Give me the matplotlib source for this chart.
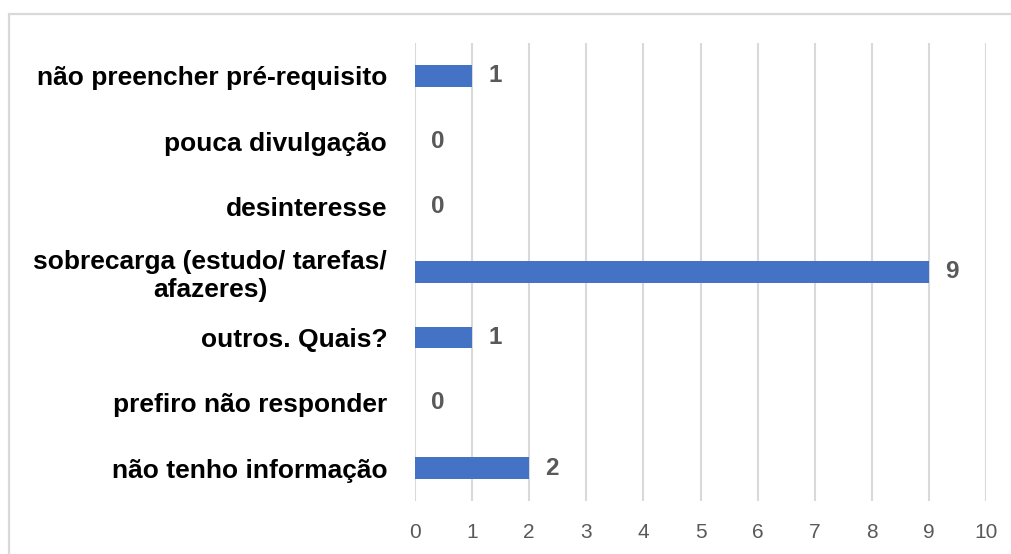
import matplotlib
matplotlib.use('Agg')
import matplotlib.pyplot as plt
from matplotlib.patches import Rectangle

categories = ['não preencher pré-requisito', 'pouca divulgação', 'desinteresse',
              'sobrecarga (estudo/ tarefas/\nafazeres)', 'outros. Quais?',
              'prefiro não responder', 'não tenho informação']
values = [1, 0, 0, 9, 1, 0, 2]
xticks = list(range(0, 11))

plt.rcParams['font.family'] = ['Liberation Sans', 'DejaVu Sans']

W, H = 1011, 554
fig = plt.figure(figsize=(W / 100, H / 100), dpi=100)
ax = fig.add_axes([415 / W, 1 - 501 / H, (986 - 415) / W, (501 - 43) / H])

# outer chart border (cut off at the right and bottom in the reference)
fig.patches.append(Rectangle((9 / W, -0.1), 1.2, 1.1 - 14 / H, transform=fig.transFigure,
                             fill=False, edgecolor='#D9D9D9', linewidth=1.6))

pos = list(range(len(categories)))[::-1]
ax.barh(pos, values, height=0.33, color='#4472C4', zorder=3)

for p, v in zip(pos, values):
    ax.annotate(str(v), (v, p), xytext=(16, 0), textcoords='offset pixels',
                ha='left', va='center', fontsize=17.5, fontweight='bold', color='#595959')

ax.set_xlim(0, 10)
ax.set_ylim(-0.5, len(categories) - 0.5)
ax.set_xticks(xticks)
ax.set_yticks(pos)
ax.set_yticklabels(categories, fontsize=19, fontweight='bold', color='#000000',
                   multialignment='center')
ax.tick_params(axis='x', length=0, pad=16, labelsize=15, labelcolor='#595959')
ax.tick_params(axis='y', length=0, pad=20)
ax.grid(axis='x', color='#D9D9D9', linewidth=1.5, zorder=0)
for s in ax.spines.values():
    s.set_visible(False)

fig.savefig('out.png', dpi=100)
